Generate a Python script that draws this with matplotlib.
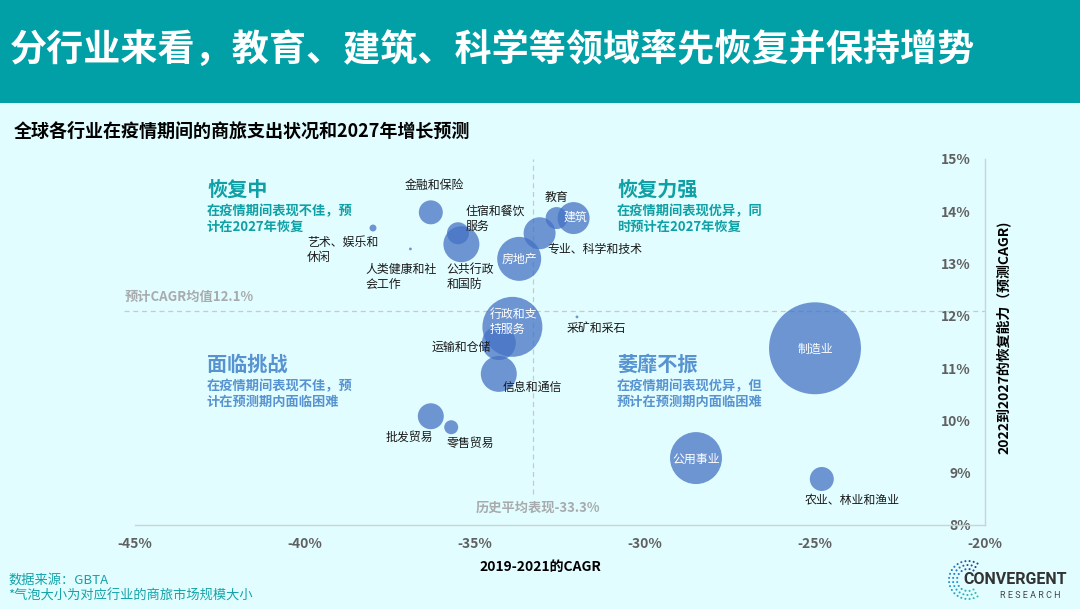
import matplotlib.pyplot as plt
import matplotlib.ticker as mticker
from matplotlib.patches import Rectangle
import numpy as np

plt.rcParams['font.family'] = ['Noto Sans CJK SC', 'DejaVu Sans']

# 数据
industries = ["金融和保险", "艺术、娱乐和休闲", "人类健康和社会工作", "住宿和餐饮服务",
              "公共行政和国防", "房地产", "专业、科学和技术", "教育", "建筑",
              "行政和支持服务", "运输和仓储", "信息和通信", "批发贸易", "零售贸易",
              "采矿和采石", "制造业", "公用事业", "农业、林业和渔业"]
cagr_2019_2021 = [-36.3, -38.0, -36.9, -35.5, -35.4, -33.7, -33.1, -32.6, -32.1,
                  -33.9, -34.3, -34.3, -36.3, -35.7, -32.0, -25.0, -28.5, -24.8]
cagr_2022_2027 = [13.98, 13.68, 13.28, 13.58, 13.37, 13.09, 13.58, 13.87, 13.87,
                  11.79, 11.48, 10.89, 10.08, 9.87, 11.98, 11.38, 9.28, 8.88]
market_size = [14.4, 1.2, 0.2, 12.1, 32.4, 48.4, 25.6, 12.1, 25.6,
               90.0, 28.9, 32.4, 16.9, 4.9, 0.2, 211.6, 67.6, 14.4]

hist_mean = -33.3
forecast_mean = 12.1
x_ticks = [-45, -40, -35, -30, -25, -20]
y_ticks = [8, 9, 10, 11, 12, 13, 14, 15]

# 标签位置（像素偏移, 水平对齐, 是否在气泡内）
label_style = {
    "金融和保险": (4, 27, 'center', False, "金融和保险"),
    "艺术、娱乐和休闲": (-66, -22, 'left', False, "艺术、娱乐和\n休闲"),
    "人类健康和社会工作": (-45, -28, 'left', False, "人类健康和社\n会工作"),
    "住宿和餐饮服务": (8, 14, 'left', False, "住宿和餐饮\n服务"),
    "公共行政和国防": (-15, -33, 'left', False, "公共行政\n和国防"),
    "房地产": (0, -1, 'center', True, "房地产"),
    "专业、科学和技术": (8, -16, 'left', False, "专业、科学和技术"),
    "教育": (0, 21, 'center', False, "教育"),
    "建筑": (2, 1, 'center', True, "建筑"),
    "行政和支持服务": (-23, 5, 'left', True, "行政和支\n持服务"),
    "运输和仓储": (-67, -4, 'left', False, "运输和仓储"),
    "信息和通信": (4, -13, 'left', False, "信息和通信"),
    "批发贸易": (-21, -21, 'center', False, "批发贸易"),
    "零售贸易": (19, -16, 'center', False, "零售贸易"),
    "采矿和采石": (-10, -12, 'left', False, "采矿和采石"),
    "制造业": (0, -1, 'center', True, "制造业"),
    "公用事业": (0, -1, 'center', True, "公用事业"),
    "农业、林业和渔业": (30, -22, 'center', False, "农业、林业和渔业"),
}

BG = '#E2FDFF'
TEAL = '#0EA0A5'
BLUE = '#5793D0'
GRAY = '#A8ABAD'

fig = plt.figure(figsize=(10.8, 6.09), dpi=100, facecolor=BG)

# 顶部标题栏
fig.add_artist(Rectangle((0, 1 - 103 / 609), 1, 103 / 609, transform=fig.transFigure,
                         facecolor='#00A0A6', edgecolor='none', zorder=0))
fig.text(10 / 1080, 1 - 50 / 609, "分行业来看，教育、建筑、科学等领域率先恢复并保持增势",
         color='white', fontsize=26.7, fontweight='bold', va='center', ha='left')
fig.text(14 / 1080, 1 - 131 / 609, "全球各行业在疫情期间的商旅支出状况和2027年增长预测",
         color='black', fontsize=13, fontweight='bold', va='center', ha='left')

ax = fig.add_axes([135 / 1080, 1 - 525 / 609, 850 / 1080, 366 / 609])
ax.set_facecolor('none')
ax.set_xlim(-45, -20)
ax.set_ylim(8, 15)

# 气泡
ax.scatter(cagr_2019_2021, cagr_2022_2027, s=np.array(market_size) * 20.7,
           color='#4472C4', alpha=0.75, edgecolors='none', zorder=3, clip_on=False)

for name, x, y in zip(industries, cagr_2019_2021, cagr_2022_2027):
    dx, dy, ha, inside, text = label_style[name]
    ax.annotate(text, (x, y), xytext=(dx, dy), textcoords='offset pixels',
                ha=ha, va='center', fontsize=8.6, linespacing=1.22,
                color='white' if inside else '#1a1a1a', zorder=5)

# 均值参考线
ax.plot([-45.32, -20], [forecast_mean, forecast_mean], ls=(0, (4, 3)), color='#C3CBCD',
        lw=0.9, zorder=1, clip_on=False)
ax.plot([hist_mean, hist_mean], [8.6, 15], ls=(0, (4, 3)), color='#C3CBCD',
        lw=0.9, zorder=1, clip_on=False)
ax.text(-45.32, 12.36, f"预计CAGR均值{forecast_mean}%", color=GRAY, fontsize=9.5,
        fontweight='bold', ha='left', va='center')
ax.text(hist_mean + 0.15, 8.34, f"历史平均表现{hist_mean}%", color=GRAY, fontsize=9.5,
        fontweight='bold', ha='center', va='center')

# 坐标轴
for side in ['top', 'left']:
    ax.spines[side].set_visible(False)
for side in ['bottom', 'right']:
    ax.spines[side].set_color('#CDD3D5')
    ax.spines[side].set_linewidth(1)

ax.set_xticks(x_ticks)
ax.set_yticks(y_ticks)
ax.xaxis.set_major_formatter(mticker.FuncFormatter(lambda v, p: f"{v:.0f}%"))
ax.yaxis.set_major_formatter(mticker.FuncFormatter(lambda v, p: f"{v:.0f}%"))
ax.tick_params(axis='x', length=0, pad=9, labelsize=10, labelcolor='#606060')
ax.tick_params(axis='y', left=False, labelleft=False, right=False, labelright=True,
               length=0, pad=-10, labelsize=10, labelcolor='#606060')
for lab in ax.get_xticklabels() + ax.get_yticklabels():
    lab.set_fontweight('bold')
for lab in ax.get_yticklabels():
    lab.set_ha('right')

ax.set_xlabel("2019-2021的CAGR", fontsize=10, fontweight='bold', color='black')
ax.xaxis.set_label_coords((540 - 135) / 850, (525 - 567) / 366)
ax.xaxis.label.set_va('center')
ax.yaxis.set_label_position('right')
ax.set_ylabel("2022到2027的恢复能力（预测CAGR)", fontsize=10, fontweight='bold',
              color='black', rotation=90)
ax.yaxis.set_label_coords((1003 - 135) / 850, (525 - 337) / 366)
ax.yaxis.label.set_va('center')

# 象限说明
quadrants = [
    (207, 189, "恢复中", ["在疫情期间表现不佳，预", "计在2027年恢复"], TEAL),
    (617, 189, "恢复力强", ["在疫情期间表现优异，同", "时预计在2027年恢复"], TEAL),
    (207, 364, "面临挑战", ["在疫情期间表现不佳，预", "计在预测期内面临困难"], BLUE),
    (617, 364, "萎靡不振", ["在疫情期间表现优异，但", "预计在预测期内面临困难"], BLUE),
]
for qx, qy, head, lines, col in quadrants:
    fig.text(qx / 1080, 1 - qy / 609, head, color=col, fontsize=14.5, fontweight='bold',
             ha='left', va='center')
    for i, line in enumerate(lines):
        fig.text(qx / 1080, 1 - (qy + 22 + 16 * i) / 609, line, color=col, fontsize=9.5,
                 fontweight='bold', ha='left', va='center')

# 数据来源
fig.text(8 / 1080, 1 - 580 / 609, "数据来源：GBTA", color='#13A3A8', fontsize=9.5,
         ha='left', va='center')
fig.text(8 / 1080, 1 - 596 / 609, "*气泡大小为对应行业的商旅市场规模大小", color='#13A3A8',
         fontsize=9.5, ha='left', va='center')

# Logo
logo = fig.add_axes([0, 0, 1, 1], facecolor='none')
logo.set_xlim(0, 1080)
logo.set_ylim(609, 0)
logo.axis('off')
cmap = plt.matplotlib.colors.LinearSegmentedColormap.from_list('lg', ['#22418E', '#2A8FD0', '#2BC3B0'])
for r, n in [(11, 12), (15, 16), (19, 20)]:
    ang = np.linspace(np.radians(60), np.radians(300), n)
    logo.scatter(968 + r * np.cos(ang), 580 - r * np.sin(ang), s=2.2,
                 c=cmap(np.linspace(0, 1, n)), edgecolors='none')
logo.text(963, 579, "CONVERGENT", fontsize=11.5, fontweight='bold', color='#333333',
          family='Roboto', ha='left', va='center')
logo.text(1030, 595, "R E S E A R C H", fontsize=6.5, color='#444444',
          family='Roboto', ha='center', va='center')

fig.savefig("out.png", dpi=100, facecolor=BG)
